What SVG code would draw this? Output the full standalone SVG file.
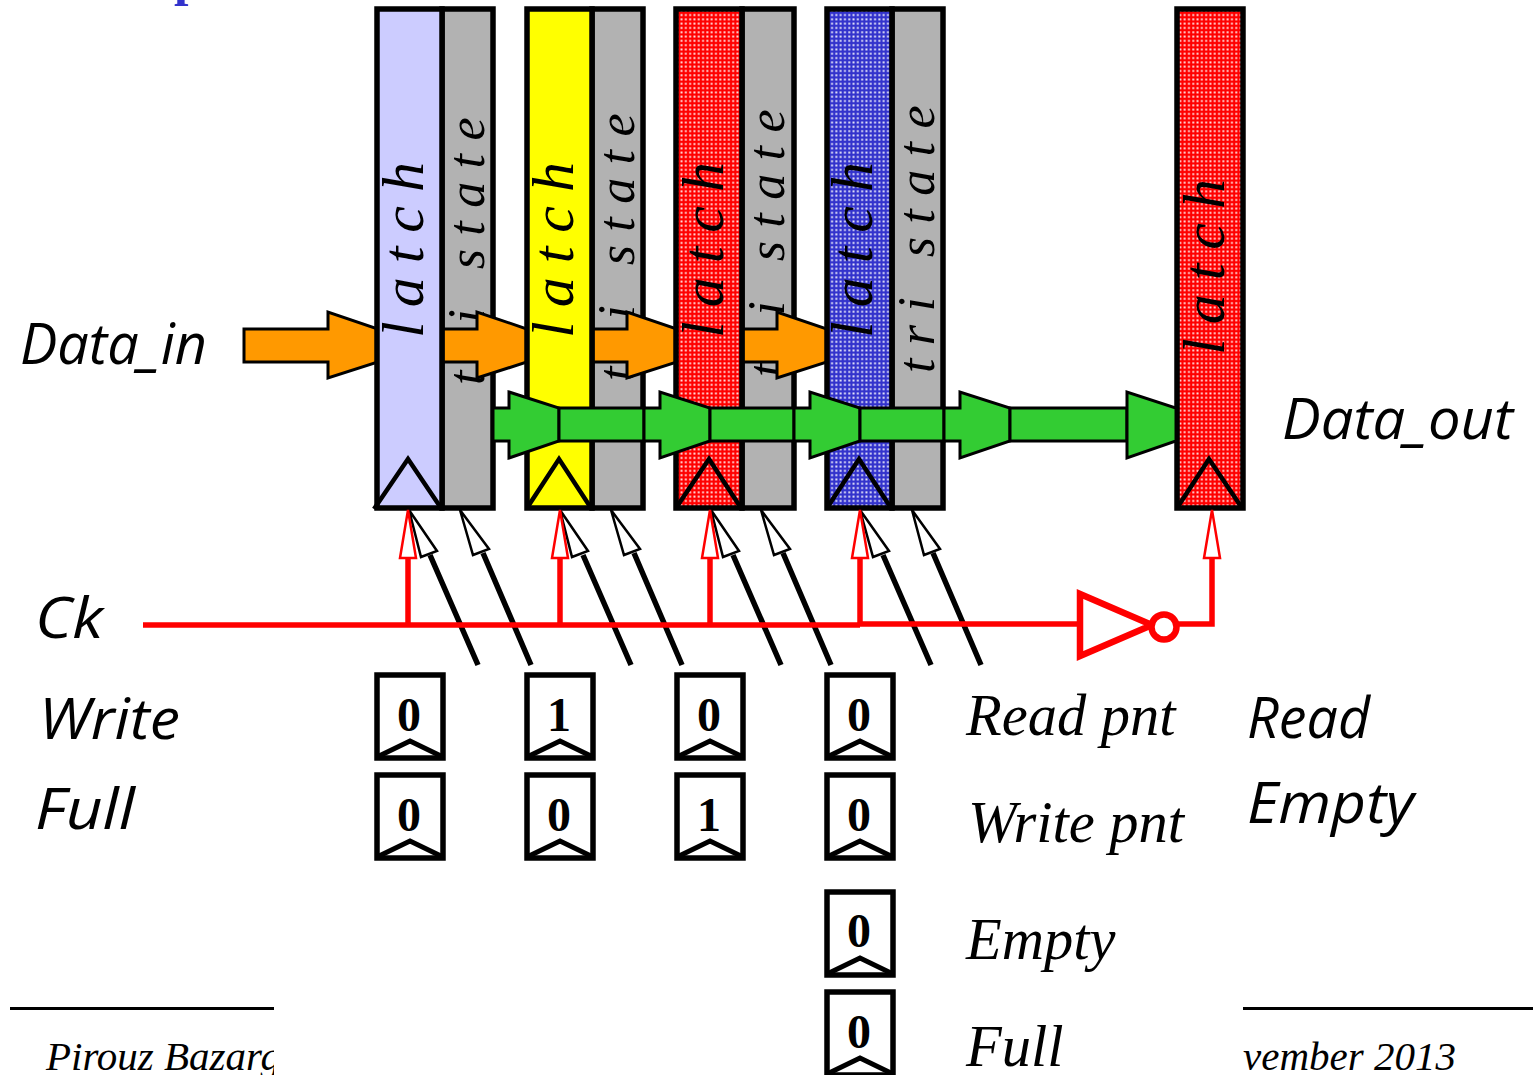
<svg xmlns="http://www.w3.org/2000/svg" width="1533" height="1075" viewBox="0 0 1533 1075">
<style>
.box{stroke:#000;stroke-width:5.5;stroke-linejoin:miter}
.tri{fill:#b2b2b2}
.clk{fill:none;stroke:#000;stroke-width:4.5;stroke-linejoin:miter}
.vt{font-family:"Liberation Serif","Times New Roman",serif;font-style:italic;fill:#000}
.lt{font-size:60px;letter-spacing:14px}
.ts{font-size:52px;letter-spacing:13.4px}
.or{fill:#ff9900;stroke:#000;stroke-width:3}
.gr{fill:#33cc33;stroke:#000;stroke-width:3}
.red{fill:none;stroke:#f00;stroke-width:5.5}
.inv{fill:#fff;stroke:#f00;stroke-width:6.5}
.rh{fill:#fff;stroke:#f00;stroke-width:2.5}
.bl{stroke:#000;stroke-width:5.5;fill:none}
.bh{fill:#fff;stroke:#000;stroke-width:2.5}
.reg{fill:#fff;stroke:#000;stroke-width:5.5}
.chev{fill:none;stroke:#000;stroke-width:5}
.num{font-family:"Liberation Serif",serif;font-weight:700;font-size:48px;text-anchor:middle;fill:#000}
.hand{font-family:"Open Sans","Noto Sans",sans-serif;font-style:italic;font-weight:400;font-size:56px;fill:#000}
.lab{font-family:"Liberation Serif",serif;font-style:italic;font-size:58.5px;fill:#000}
.foot{font-family:"Liberation Serif",serif;font-style:italic;font-size:41px;fill:#000}
</style>
<defs>
<pattern id="dr" width="4.3" height="4.3" patternUnits="userSpaceOnUse"><rect width="4.3" height="4.3" fill="#f00"/><rect x="1.2" y="1.2" width="1.9" height="1.9" fill="#fff" opacity=".9"/></pattern>
<pattern id="db" width="4.3" height="4.3" patternUnits="userSpaceOnUse"><rect width="4.3" height="4.3" fill="#3333cc"/><rect x="1.2" y="1.2" width="1.9" height="1.9" fill="#fff" opacity=".9"/></pattern>
<clipPath id="cl"><rect x="0" y="1030" width="274" height="45"/></clipPath>
<clipPath id="cr"><rect x="1243" y="1030" width="290" height="45"/></clipPath>
</defs>

<text id="title-fragment" x="174" y="-5" font-family="Liberation Serif,serif" font-weight="700" font-size="52" fill="#3333cc">p</text>

<g id="tri1"><rect class="box tri" x="442" y="9" width="51" height="499"/><text class="vt ts" transform="translate(484 385) rotate(-90)">tri state</text></g>
<g id="tri2"><rect class="box tri" x="592" y="9" width="51" height="499"/><text class="vt ts" transform="translate(634 381) rotate(-90)">tri state</text></g>
<g id="tri3"><rect class="box tri" x="742" y="9" width="52" height="499"/><text class="vt ts" transform="translate(784 377) rotate(-90)">tri state</text></g>
<g id="tri4"><rect class="box tri" x="892" y="9" width="51" height="499"/><text class="vt ts" transform="translate(934 373) rotate(-90)">tri state</text></g>

<g id="connectors-data-in">
<polygon class="or" points="244,329 328,329 328,312 378,329 378,362 328,378 328,362 244,362"/>
<polygon class="or" points="443,329 477,329 477,312 527,329 527,362 477,378 477,362 443,362"/>
<polygon class="or" points="593,329 627,329 627,312 677,329 677,362 627,378 627,362 593,362"/>
<polygon class="or" points="743,329 777,329 777,312 827,329 827,362 777,378 777,362 743,362"/>
</g>

<g id="latch1"><rect class="box" fill="#ccccff" x="377" y="9" width="65" height="499"/><polyline class="clk" points="374,509 408,459 441,508"/><text class="vt lt" transform="translate(423 338) rotate(-90)">latch</text></g>
<g id="latch2"><rect class="box" fill="#ffff00" x="527" y="9" width="65" height="499"/><polyline class="clk" points="527,508 559,459 591,508"/><text class="vt lt" transform="translate(573 338) rotate(-90)">latch</text></g>
<g id="latch3"><rect class="box" fill="url(#dr)" x="676" y="9" width="66" height="499"/><polyline class="clk" points="676,508 709,459 741,508"/><text class="vt lt" transform="translate(723 338) rotate(-90)">latch</text></g>
<g id="latch4"><rect class="box" fill="url(#db)" x="827" y="9" width="65" height="499"/><polyline class="clk" points="827,508 859,459 891,508"/><text class="vt lt" transform="translate(872 338) rotate(-90)">latch</text></g>
<g id="latch5"><rect class="box" fill="url(#dr)" x="1177" y="9" width="66" height="499"/><polyline class="clk" points="1177,508 1209,459 1242,508"/><text class="vt lt" transform="translate(1224 355) rotate(-90)">latch</text></g>

<g id="connectors-data-out">
<polygon class="gr" points="493,408 509,408 509,392 559,408 559,441 509,458 509,441 493,441"/>
<rect class="gr" x="559" y="408" width="85" height="33"/>
<polygon class="gr" points="644,408 660,408 660,392 710,408 710,441 660,458 660,441 644,441"/>
<rect class="gr" x="710" y="408" width="84" height="33"/>
<polygon class="gr" points="794,408 810,408 810,392 860,408 860,441 810,458 810,441 794,441"/>
<rect class="gr" x="860" y="408" width="84" height="33"/>
<polygon class="gr" points="944,408 960,408 960,392 1010,408 1010,441 960,458 960,441 944,441"/>
<rect class="gr" x="1010" y="408" width="117" height="33"/>
<polygon class="gr" points="1127,408 1127,392 1176,408 1176,441 1127,458 1127,441"/>
</g>

<g id="connectors-control">
<path class="bl" d="M478,665L430,555M531,665L483,553M631,665L583,555M682,665L634,553M781,665L733,555M831,665L783,553M931,665L883,555M981,665L933,553"/>
<polygon class="bh" points="409,510 421,557 437,551"/>
<polygon class="bh" points="460,510 473,555 489,549"/>
<polygon class="bh" points="560,510 572,557 588,551"/>
<polygon class="bh" points="611,510 624,555 640,549"/>
<polygon class="bh" points="711,510 723,557 739,551"/>
<polygon class="bh" points="761,510 774,555 790,549"/>
<polygon class="bh" points="860,510 873,557 889,551"/>
<polygon class="bh" points="912,510 924,555 940,549"/>
<path class="red" d="M143,625H860M408,625V558M560,625V558M710,625V558M860,625V558M860,624H1079M1176,624H1212V558"/>
<polygon class="rh" points="408,510 400,558 416,558"/>
<polygon class="rh" points="560,510 552,558 568,558"/>
<polygon class="rh" points="710,510 702,558 718,558"/>
<polygon class="rh" points="860,510 852,558 868,558"/>
<polygon class="rh" points="1212,510 1204,558 1220,558"/>
</g>

<g id="inverter"><polygon class="inv" points="1080,594 1080,656 1152,625"/><circle cx="1164" cy="627" r="12.5" class="inv"/></g>

<g id="w1"><rect class="reg" x="377" y="675" width="66" height="83"/><polyline class="chev" points="377,757 410,741 443,757"/><text class="num" x="409" y="731">0</text></g>
<g id="w2"><rect class="reg" x="527" y="675" width="66" height="83"/><polyline class="chev" points="527,757 560,741 593,757"/><text class="num" x="559" y="731">1</text></g>
<g id="w3"><rect class="reg" x="677" y="675" width="66" height="83"/><polyline class="chev" points="677,757 710,741 743,757"/><text class="num" x="709" y="731">0</text></g>
<g id="w4"><rect class="reg" x="827" y="675" width="66" height="83"/><polyline class="chev" points="827,757 860,741 893,757"/><text class="num" x="859" y="731">0</text></g>
<g id="f1"><rect class="reg" x="377" y="775" width="66" height="83"/><polyline class="chev" points="377,857 410,841 443,857"/><text class="num" x="409" y="831">0</text></g>
<g id="f2"><rect class="reg" x="527" y="775" width="66" height="83"/><polyline class="chev" points="527,857 560,841 593,857"/><text class="num" x="559" y="831">0</text></g>
<g id="f3"><rect class="reg" x="677" y="775" width="66" height="83"/><polyline class="chev" points="677,857 710,841 743,857"/><text class="num" x="709" y="831">1</text></g>
<g id="f4"><rect class="reg" x="827" y="775" width="66" height="83"/><polyline class="chev" points="827,857 860,841 893,857"/><text class="num" x="859" y="831">0</text></g>
<g id="empty"><rect class="reg" x="827" y="892" width="66" height="83"/><polyline class="chev" points="827,974 860,958 893,974"/><text class="num" x="859" y="947">0</text></g>
<g id="full"><rect class="reg" x="827" y="992" width="66" height="83"/><polyline class="chev" points="827,1074 860,1058 893,1074"/><text class="num" x="859" y="1048">0</text></g>

<g id="labels">
<text class="hand" x="20" y="364" textLength="187" lengthAdjust="spacingAndGlyphs">Data_in</text>
<text class="hand" x="1282" y="439" textLength="231" lengthAdjust="spacingAndGlyphs">Data_out</text>
<text class="hand" x="35" y="638" textLength="68" lengthAdjust="spacingAndGlyphs">Ck</text>
<text class="hand" x="39" y="739" textLength="141" lengthAdjust="spacingAndGlyphs">Write</text>
<text class="hand" x="35" y="829" textLength="100" lengthAdjust="spacingAndGlyphs">Full</text>
<text class="hand" x="1247" y="738" textLength="123" lengthAdjust="spacingAndGlyphs">Read</text>
<text class="hand" x="1247" y="823" textLength="167" lengthAdjust="spacingAndGlyphs">Empty</text>
<text class="lab" x="966" y="735">Read pnt</text>
<text class="lab" x="968" y="842">Write pnt</text>
<text class="lab" x="966" y="959">Empty</text>
<text class="lab" x="966" y="1066">Full</text>
</g>

<g id="footer">
<rect x="10" y="1007" width="264" height="3" fill="#000"/>
<rect x="1243" y="1007" width="290" height="3" fill="#000"/>
<g clip-path="url(#cl)"><text class="foot" x="46" y="1070">Pirouz Bazarg</text></g>
<g clip-path="url(#cr)"><text class="foot" x="1243" y="1070">vember 2013</text></g>
</g>
</svg>
